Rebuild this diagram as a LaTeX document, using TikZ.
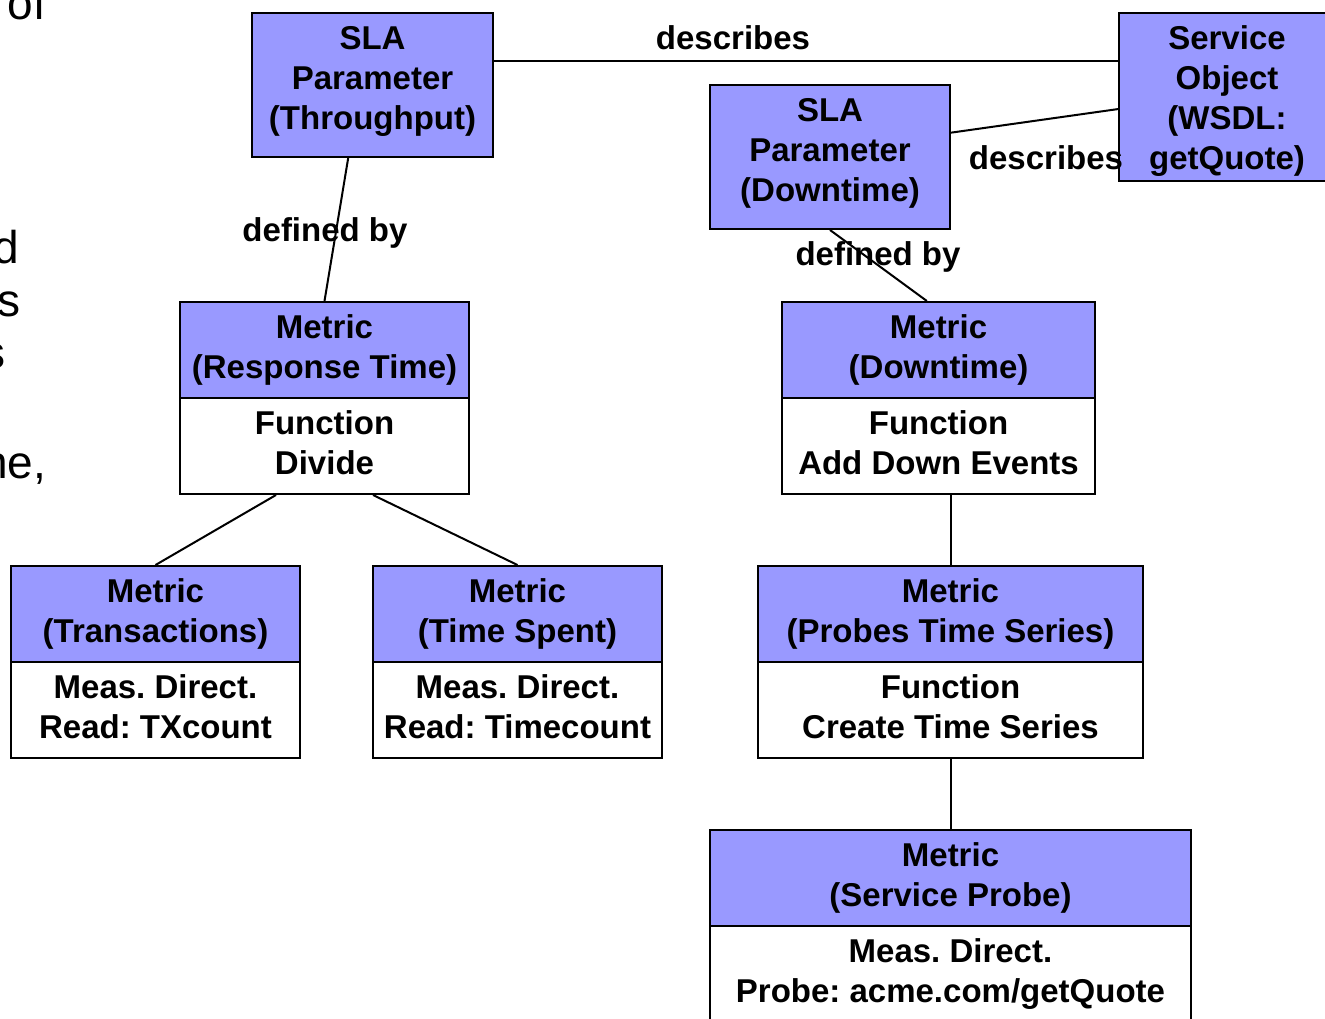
\documentclass[tikz,border=0pt]{standalone}
\usepackage{fontspec}
\setmainfont{Liberation Sans}
\usetikzlibrary{calc}
\definecolor{boxblue}{HTML}{9999FF}
% invisible rules that balance the vertical placement of box texts
\newcommand\lowstrut[1]{\rule[-#1]{0pt}{0pt}}
\newcommand\highstrut[1]{\rule{0pt}{#1}}
\begin{document}
\frenchspacing
\begin{tikzpicture}[x=1pt, y=-1pt, line width=2pt,
  every node/.style={font=\bfseries\fontsize{33}{40}\selectfont, align=center, inner sep=0pt},
  bluebox/.style={draw=black, fill=boxblue, rectangle},
  whitebox/.style={draw=black, fill=white, rectangle},
  half/.style={minimum height=96pt},
  edgelabel/.style={fill=none},
  sidetext/.style={font=\fontsize{46}{53}\selectfont, anchor=base east},
  link/.style={draw=black, line width=2pt}]

\useasboundingbox (0,0) rectangle (1325,1019);
\clip (0,0) rectangle (1325,1019);

% fragments of the running text on the left
\node[sidetext] (t1) at (47,20) {of};
\node[sidetext] (t2) at (20,263) {d};
\node[sidetext] (t3) at (22,316) {s};
\node[sidetext] (t4) at (7,368) {s};
\node[sidetext] (t5) at (47,478) {ne,};

% SLA parameters and the service object
\node[bluebox, minimum width=241pt, minimum height=144pt] (thr) at (372.5,85) {SLA\\Parameter\\(Throughput)\lowstrut{15pt}};
\node[bluebox, minimum width=240pt, minimum height=144pt] (dsla) at (830,157) {SLA\\Parameter\\(Downtime)\lowstrut{15pt}};
\node[bluebox, minimum width=216pt, minimum height=168pt] (svc) at (1227,97) {\highstrut{32pt}Service\\Object\\(WSDL:\\getQuote)};

% metric (response time)
\node[bluebox, half, minimum width=289pt] (mrt) at (324.5,350) {Metric\\(Response Time)};
\node[whitebox, half, minimum width=289pt] (mrtf) at (324.5,446) {Function\\Divide\lowstrut{7pt}};

% metric (downtime)
\node[bluebox, half, minimum width=313pt] (mdt) at (938.5,350) {Metric\\(Downtime)};
\node[whitebox, half, minimum width=313pt] (mdtf) at (938.5,446) {Function\\Add Down Events\lowstrut{7pt}};

% metric (transactions)
\node[bluebox, half, minimum width=289pt] (mtx) at (155.5,614) {Metric\\(Transactions)};
\node[whitebox, half, minimum width=289pt] (mtxf) at (155.5,710) {Meas. Direct.\\Read: TXcount\lowstrut{7pt}};

% metric (time spent)
\node[bluebox, half, minimum width=289pt] (mts) at (517.5,614) {Metric\\(Time Spent)};
\node[whitebox, half, minimum width=289pt] (mtsf) at (517.5,710) {Meas. Direct.\\Read: Timecount\lowstrut{7pt}};

% metric (probes time series)
\node[bluebox, half, minimum width=385pt] (mpt) at (950.5,614) {Metric\\(Probes Time Series)};
\node[whitebox, half, minimum width=385pt] (mptf) at (950.5,710) {Function\\Create Time Series\lowstrut{7pt}};

% metric (service probe)
\node[bluebox, half, minimum width=481pt] (msp) at (950.5,878) {Metric\\(Service Probe)};
\node[whitebox, half, minimum width=481pt] (mspf) at (950.5,974) {Meas. Direct.\\Probe: acme.com/getQuote\lowstrut{7pt}};

% connectors
\coordinate (thrR) at ($(thr.north east)!1/3!(thr.south east)$);
\draw[link] (thrR) -- (thrR -| svc.west);
\draw[link] ($(dsla.north east)!1/3!(dsla.south east)$) -- ($(svc.north west)!0.571!(svc.south west)$);
\draw[link] ($(thr.south west)!0.40!(thr.south east)$) -- (mrt.north);
\draw[link] (dsla.south) -- ($(mdt.north west)!0.463!(mdt.north east)$);
\draw[link] ($(mrtf.south west)!1/3!(mrtf.south east)$) -- (mtx.north);
\draw[link] ($(mrtf.south west)!2/3!(mrtf.south east)$) -- (mts.north);
\draw[link] (mpt.north |- mdtf.south) -- (mpt.north);
\draw[link] (mptf.south) -- (msp.north);

% connector labels
\node[edgelabel] (l1) at (733,38) {describes};
\node[edgelabel] (l2) at (1046,158) {describes};
\node[edgelabel] (l3) at (325,233) {defined by};
\node[edgelabel] (l4) at (878,257) {defined by};
\end{tikzpicture}
\end{document}
